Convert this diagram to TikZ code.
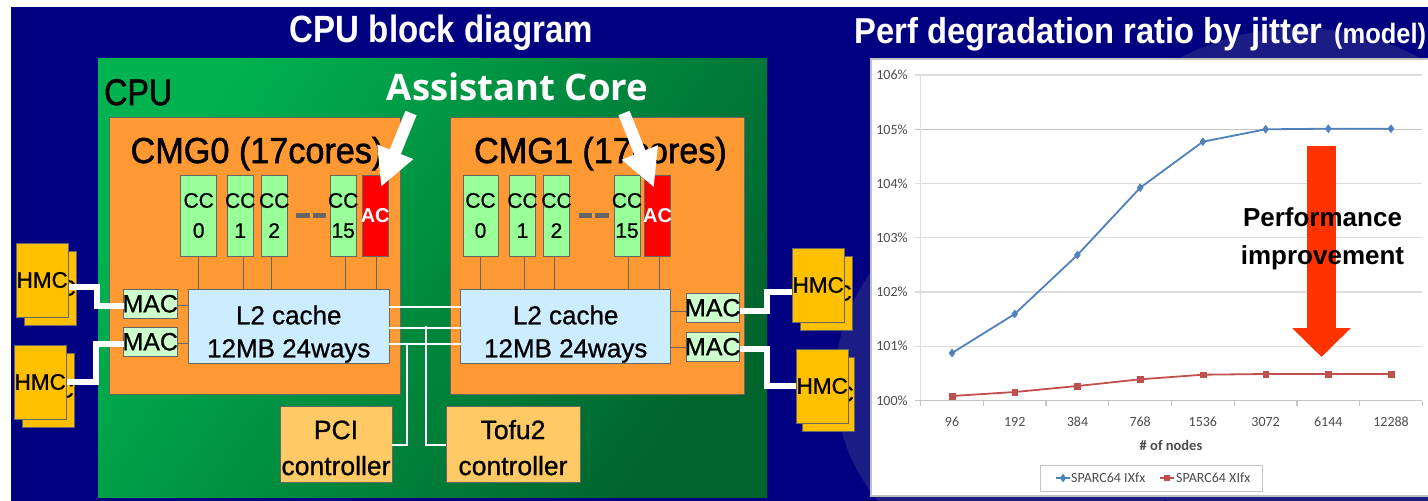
\documentclass[tikz,border=0pt]{standalone}
\usepackage{fontspec}
\setmainfont[FakeBold=0.8]{Liberation Sans}
\newfontfamily\plainfont{Liberation Sans}
\newfontfamily\titlefont[FakeStretch=0.87]{Liberation Sans}
\newfontfamily\headfont[FakeStretch=0.91]{Liberation Sans}
\newfontfamily\cmgfont[FakeStretch=0.95,FakeBold=1.5]{Liberation Sans}
\newfontfamily\cpufont[FakeStretch=0.87,FakeBold=1.5]{Liberation Sans}
\newfontfamily\chartfont{Carlito}
\newfontfamily\callfont{Open Sans}
\usetikzlibrary{positioning,arrows.meta,plotmarks}

\definecolor{slidenavy}{HTML}{000080}
\definecolor{slidearc}{HTML}{1C1C85}
\definecolor{edgegray}{HTML}{666666}
\definecolor{cmgorange}{HTML}{FF9933}
\definecolor{ccgreen}{HTML}{99FF99}
\definecolor{macgreen}{HTML}{CCFFCC}
\definecolor{cacheblue}{HTML}{CCECFF}
\definecolor{hmcyellow}{HTML}{FFC000}
\definecolor{ctrlyellow}{HTML}{FFC966}
\definecolor{gridgray}{HTML}{DDDDDD}
\definecolor{axisgray}{HTML}{C4C4C4}
\definecolor{ixfxblue}{HTML}{4F81BD}
\definecolor{xifxred}{HTML}{C0504D}
\definecolor{gainred}{HTML}{FF3300}

\newcommand{\pxfont}[1]{\fontsize{#1}{#1}\selectfont}
\newcommand{\overlabel}[2]{\makebox[0pt]{#1}\\\makebox[0pt]{#2}}
\newcommand{\maclabel}{\makebox[0pt]{\raisebox{-2pt}{MAC}}}
\newcommand{\cachelabel}{\rule{0pt}{35pt}L2 cache\\12MB 24ways}

\tikzset{
	block/.style={draw=edgegray, line width=1pt, inner sep=0pt, outer sep=0pt},
	cmg/.style={block, fill=cmgorange, minimum width=#1, minimum height=277pt},
	cc/.style={block, fill=ccgreen, minimum width=26pt, minimum height=81pt, align=center,
		font=\fontsize{21}{30}\selectfont},
	ac/.style={cc, fill=red, text=white, font=\plainfont\bfseries\pxfont{20}},
	cache/.style={block, fill=cacheblue, minimum width=#1, minimum height=74pt, align=center,
		font=\fontsize{26}{33}\selectfont},
	mac/.style={block, fill=macgreen, minimum width=53.5pt, minimum height=29.5pt, font=\pxfont{25}},
	hmc/.style={block, fill=hmcyellow, minimum width=52.5pt, minimum height=74pt, font=\pxfont{22.5}},
	ctrl/.style={block, fill=ctrlyellow, minimum height=76pt, align=center,
		font=\fontsize{26.5}{36}\selectfont},
	wire/.style={draw=edgegray, line width=1pt},
	hmclink/.style={draw=white, line width=6pt},
	bus/.style={draw=white, line width=2pt},
	callout/.style={draw=white, line width=12pt, -{Triangle[width=36pt,length=38pt]}},
	chartlabel/.style={font=\chartfont\pxfont{14}, text=black!70, inner sep=0pt},
	gridline/.style={draw=gridgray, line width=1.2pt},
	axisline/.style={draw=axisgray, line width=1.2pt},
}

\begin{document}
\begin{tikzpicture}[x=1pt, y=-1pt]
	\useasboundingbox (0,0) rectangle (1428,501);
	\fill[white] (0,0) rectangle (1428,501);
	\fill[slidenavy] (11,7) rectangle (1428,501);
	\begin{scope}
		\clip (11,7) rectangle (1428,501);
		\fill[slidearc] (1021,382) circle (186);
		\fill[slidearc] (1300,283) circle (255);
	\end{scope}

	\node[text=white, font=\titlefont\bfseries\pxfont{38}, inner sep=0pt, anchor=base] (title0) at (441.5,42) {CPU block diagram};
	\node[text=white, font=\headfont\bfseries\pxfont{36}, inner sep=0pt, anchor=base west] (title1) at (854,43) {Perf degradation ratio by jitter};
	\node[text=white, font=\headfont\bfseries\pxfont{28}, inner sep=0pt, anchor=base west] (title2) at (1334,43) {(model)};

	\shade[left color={rgb,255:red,0;green,178;blue,80}, middle color={rgb,255:red,0;green,160;blue,70}, right color={rgb,255:red,0;green,100;blue,45}, shading angle=55] (98,58) rectangle (767,497);
	\node[font=\cpufont\pxfont{37}, inner sep=0pt, anchor=base west] (cpu) at (104,105) {CPU};

	\node[cmg=291pt, anchor=north west] (cmg0) at (109,117) {};
	\node[cmg=294pt, anchor=north west] (cmg1) at (450,117) {};
	\node[font=\cmgfont\pxfont{36}, inner sep=0pt, anchor=base] (cmg0t) at (257,163) {CMG0 (17cores)};
	\node[font=\cmgfont\pxfont{36}, inner sep=0pt, anchor=base] (cmg1t) at (600.5,163) {CMG1 (17cores)};

	\node[cc, minimum width=36pt, anchor=north west] (a0) at (180.7,175) {\overlabel{CC}{0}};
	\node[cc, right=10.5pt of a0] (a1) {\overlabel{CC}{1}};
	\node[cc, right=8pt of a1] (a2) {\overlabel{CC}{2}};
	\node[cc, right=43pt of a2] (a15) {\overlabel{CC}{15}};
	\node[ac, right=6pt of a15] (aac) {\makebox[0pt]{AC}};

	\node[cc, minimum width=35pt, anchor=north west] (b0) at (463,175) {\overlabel{CC}{0}};
	\node[cc, right=11.5pt of b0] (b1) {\overlabel{CC}{1}};
	\node[cc, right=8pt of b1] (b2) {\overlabel{CC}{2}};
	\node[cc, right=44.5pt of b2] (b15) {\overlabel{CC}{15}};
	\node[ac, right=4.5pt of b15] (bac) {\makebox[0pt]{AC}};

	\draw[draw=edgegray, line width=5pt, dash pattern=on 13.5pt off 3pt, shorten <=9pt, shorten >=3pt] (a2) -- (a15);
	\draw[draw=edgegray, line width=5pt, dash pattern=on 13.5pt off 3pt, shorten <=9pt, shorten >=3pt] (b2) -- (b15);

	\node[cache=200.5pt, anchor=north west] (l2a) at (188.5,289) {\cachelabel};
	\node[cache=210pt, anchor=north west] (l2b) at (460.7,289) {\cachelabel};

	\foreach \c/\s in {a0/0pt, a1/3pt, a2/-2.5pt, a15/2pt, aac/1.7pt}
		\draw[wire] ([xshift=\s]\c.south) -- ([xshift=\s]\c.south |- l2a.north);
	\foreach \c/\s in {b0/0pt, b1/2pt, b2/-1.7pt, b15/1.3pt, bac/2pt}
		\draw[wire] ([xshift=\s]\c.south) -- ([xshift=\s]\c.south |- l2b.north);

	\node[mac, anchor=north west] (mac0) at (123.5,289) {\maclabel};
	\node[mac, anchor=north west] (mac1) at (123.5,327) {\maclabel};
	\node[mac, anchor=north west] (mac2) at (686,293) {\maclabel};
	\node[mac, anchor=north west] (mac3) at (686,332) {\maclabel};

	\draw[wire] ([yshift=-2pt]mac0.east) -- ([yshift=-2pt]mac0.east -| l2a.west);
	\draw[wire] ([yshift=-2pt]mac1.east) -- ([yshift=-2pt]mac1.east -| l2a.west);
	\draw[wire] ([yshift=-3.5pt]mac2.west) -- ([yshift=-3.5pt]mac2.west -| l2b.east);
	\draw[wire] ([yshift=-1pt]mac3.west) -- ([yshift=-1pt]mac3.west -| l2b.east);

	\node[hmc, anchor=north west] (hmc0b) at (24,251) {\makebox[0pt]{HMC}};
	\node[hmc, anchor=north west] (hmc0) at (16,243) {\makebox[0pt]{HMC}};
	\node[hmc, anchor=north west] (hmc1b) at (22,353) {\makebox[0pt]{HMC}};
	\node[hmc, anchor=north west] (hmc1) at (14,345) {\makebox[0pt]{HMC}};
	\node[hmc, anchor=north west] (hmc2b) at (800,256) {\makebox[0pt]{HMC}};
	\node[hmc, anchor=north west] (hmc2) at (792,248) {\makebox[0pt]{HMC}};
	\node[hmc, anchor=north west] (hmc3b) at (802,357) {\makebox[0pt]{HMC}};
	\node[hmc, anchor=north west] (hmc3) at (796,349) {\makebox[0pt]{HMC}};

	\draw[hmclink] ([yshift=-6.5pt]hmc0.east) -- ++(28,0) |- ([yshift=-2.5pt]mac0.west);
	\draw[hmclink] (hmc1.east) -- ++(29,0) |- ([yshift=-2pt]mac1.west);
	\draw[hmclink] ([yshift=-3.5pt]mac2.east) -- ++(27,0) |- ([yshift=-7pt]hmc2.west);
	\draw[hmclink] ([yshift=-2pt]mac3.east) -- ++(27,0) |- (hmc3.west);

	\node[ctrl, minimum width=112pt, anchor=north west] (pci) at (280,406.7) {\rule{0pt}{25pt}PCI\\\makebox[0pt]{controller}};
	\node[ctrl, minimum width=134pt, anchor=north west] (tofu) at (446,406.7) {\rule{0pt}{25pt}Tofu2\\\makebox[0pt]{controller}};

	\draw[bus] ([yshift=19.3pt]l2a.east) -- ([yshift=19.3pt]l2a.east -| l2b.west);
	\draw[bus] ([yshift=-1.7pt]l2a.east) -- ([yshift=-1.7pt]l2a.east -| l2b.west);
	\draw[bus] ([yshift=-18pt]l2a.east) -- ([yshift=-18pt]l2a.east -| l2b.west);
	\coordinate (bus0) at (407.3,344);
	\coordinate (bus1) at (426,326);
	\draw[bus] (pci.east) -| (bus0);
	\draw[bus] (tofu.west) -| (bus1);

	\node[text=white, font=\callfont\bfseries\pxfont{36.5}, inner sep=0pt] (assist) at (517.5,87) {Assistant Core};
	\coordinate (tail0) at (411,113);
	\coordinate (tip0) at (381,187);
	\coordinate (tail1) at (624,113);
	\coordinate (tip1) at (654,187.7);
	\draw[callout] (tail0) -- (tip0);
	\draw[callout] (tail1) -- (tip1);

	% chart
	\fill[white, draw=black!25, line width=2pt] (871,59) rectangle (1430,496);
	\foreach \y in {75, 183.5, 237.7, 292, 346.2}
		\draw[gridline] (915,\y) -- (1422.4,\y);
	\draw[axisline] (915,129.3) -- (1422.4,129.3);
	\draw[gridline] (920.6,75) -- (920.6,400.7);
	\draw[axisline] (915,400.7) -- (1422.4,400.7);
	\foreach \y/\l in {75/106, 129.3/105, 183.5/104, 237.7/103, 292/102, 346.2/101, 400.7/100}
		\node[chartlabel] (ylab\l) at (892,\y) {\l\%};
	\foreach \i in {0,...,8}
		\draw[axisline] ({920.6+62.72*\i},400.7) -- ({920.6+62.72*\i},405.5);
	\foreach \i/\l in {0/96, 1/192, 2/384, 3/768, 4/1536, 5/3072, 6/6144, 7/12288}
		\node[chartlabel] (xlab\l) at ({952+62.72*\i},422) {\l};
	\node[chartlabel, font=\chartfont\bfseries\pxfont{14.5}] (xtitle) at (1171,445) {\# of nodes};

	\draw[ixfxblue, line width=1.8pt] plot[mark=diamond*, mark size=4pt, mark options={fill=ixfxblue, draw=ixfxblue, line width=.4pt}] coordinates {(952,353) (1014.7,314) (1077.4,255) (1140.2,187.7) (1202.9,141.7) (1265.6,129.3) (1328.3,128.7) (1391,128.7)};
	\draw[xifxred, line width=1.8pt] plot[mark=square*, mark size=2.8pt, mark options={fill=xifxred, draw=xifxred, line width=.4pt}] coordinates {(952,396) (1014.7,392) (1077.4,386) (1140.2,379.3) (1202.9,374.7) (1265.6,374) (1328.3,374) (1391,374)};

	\node[draw=axisgray, line width=1pt, fill=white, minimum width=221.5pt, minimum height=25.7pt, inner sep=0pt, anchor=north west] (legend) at (1040,465) {};
	\node[chartlabel, anchor=west] (leg0) at (1071,478) {SPARC64 IXfx};
	\node[chartlabel, anchor=west] (leg1) at (1176,478) {SPARC64 XIfx};
	\draw[ixfxblue, line width=1.5pt] plot[mark=diamond*, mark indices={2}, mark size=3pt, mark options={fill=ixfxblue, draw=ixfxblue}] coordinates {(1056,478) (1063,478) (1070,478)};
	\draw[xifxred, line width=1.5pt] plot[mark=square*, mark indices={2}, mark size=2.3pt, mark options={fill=xifxred, draw=xifxred}] coordinates {(1160,478) (1167,478) (1174,478)};

	\draw[gainred, line width=29pt, -{Triangle[width=57pt,length=29pt]}] (1321.5,145.7) -- (1321.5,357);
	\node[font=\plainfont\bfseries\pxfont{26}, inner sep=0pt, anchor=base] (perf0) at (1322.5,226.5) {Performance};
	\node[font=\plainfont\bfseries\pxfont{26}, inner sep=0pt, anchor=base] (perf1) at (1322.5,264.5) {improvement};
\end{tikzpicture}
\end{document}
